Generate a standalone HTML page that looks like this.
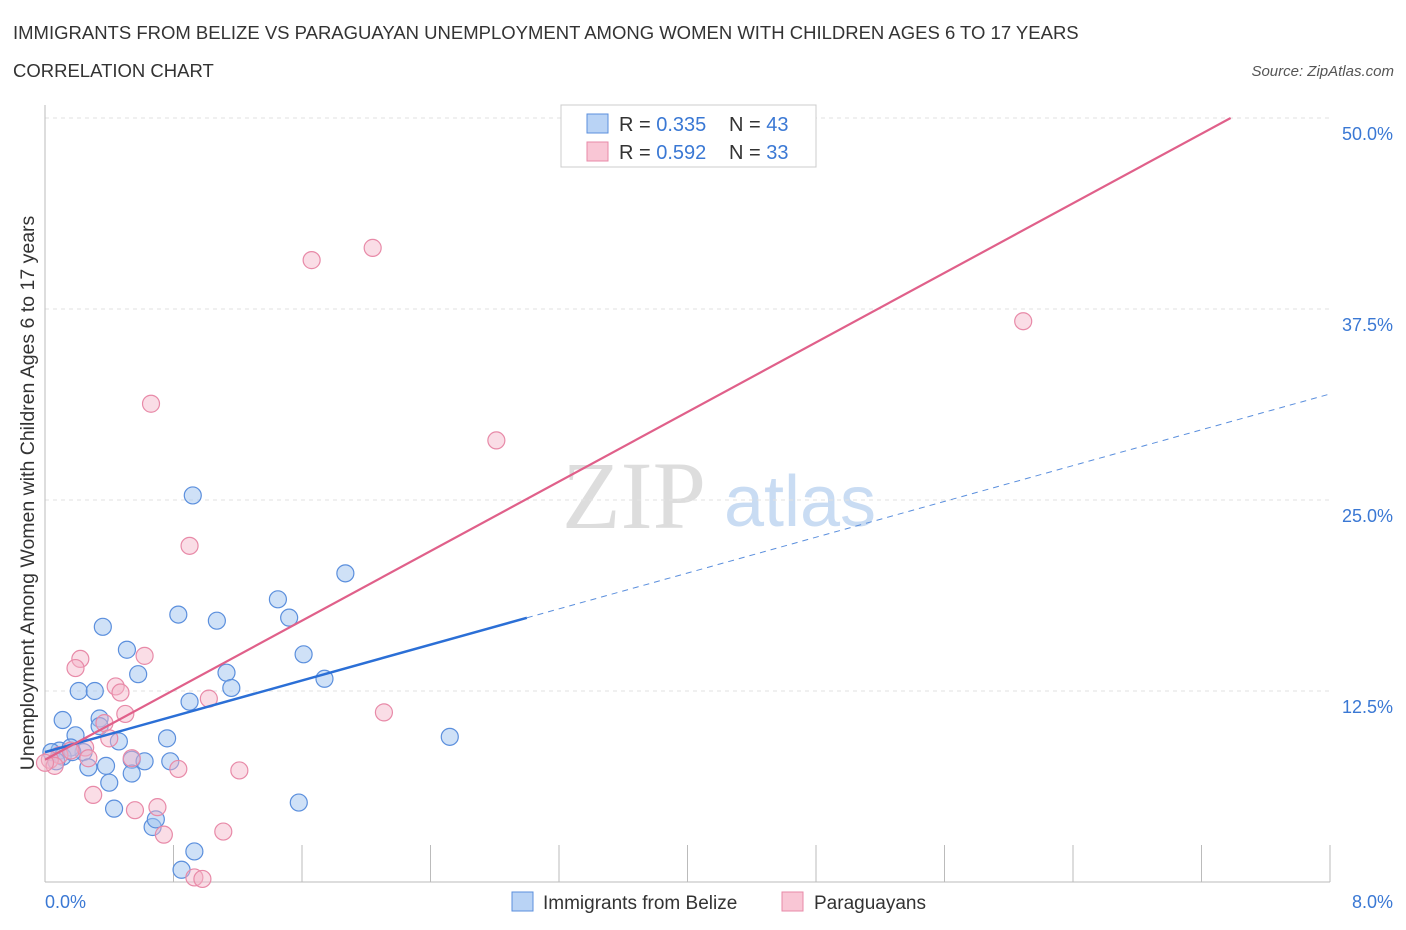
<!DOCTYPE html>
<html><head><meta charset="utf-8"><style>
body{margin:0;background:#fff;font-family:"Liberation Sans",sans-serif;}
svg{display:block}
</style></head><body>
<svg id="chart" width="1406" height="930">
<text x="13" y="39" font-size="18.5" fill="#333">IMMIGRANTS FROM BELIZE VS PARAGUAYAN UNEMPLOYMENT AMONG WOMEN WITH CHILDREN AGES 6 TO 17 YEARS</text>
<text x="13" y="77" font-size="18.5" fill="#333">CORRELATION CHART</text>
<text x="1394" y="76" font-size="15" fill="#555" font-style="italic" text-anchor="end">Source: ZipAtlas.com</text>
<text x="634" y="528" font-size="96" fill="#ddd" font-family="Liberation Serif,serif" text-anchor="middle">ZIP</text>
<text x="800" y="526" font-size="72" fill="#c9dcf3" text-anchor="middle">atlas</text>
<text transform="translate(34,493) rotate(-90)" font-size="19.5" fill="#333" text-anchor="middle">Unemployment Among Women with Children Ages 6 to 17 years</text>
<g id="grid"></g><g id="marks"></g><g id="lines"></g>
<g>
<rect x="561" y="105" width="255" height="62" fill="#fff" stroke="#ccc"/>
<rect x="587" y="114" width="21" height="19" fill="#b9d3f5" stroke="#5b8fdd"/>
<rect x="587" y="142" width="21" height="19" fill="#f9c6d5" stroke="#e88aa8"/>
<text x="619" y="131" font-size="20" fill="#333">R = <tspan fill="#3a78d4">0.335</tspan><tspan x="729">N = </tspan><tspan fill="#3a78d4">43</tspan></text>
<text x="619" y="159" font-size="20" fill="#333">R = <tspan fill="#3a78d4">0.592</tspan><tspan x="729">N = </tspan><tspan fill="#3a78d4">33</tspan></text>
</g>
<g>
<rect x="512" y="892" width="21" height="19" fill="#b9d3f5" stroke="#5b8fdd"/>
<text x="543" y="909" font-size="19" fill="#333">Immigrants from Belize</text>
<rect x="782" y="892" width="21" height="19" fill="#f9c6d5" stroke="#e88aa8"/>
<text x="814" y="909" font-size="19" fill="#333">Paraguayans</text>
</g>
<text x="45" y="908" font-size="18" fill="#3a78d4">0.0%</text>
<text x="1393" y="908" font-size="18" fill="#3a78d4" text-anchor="end">8.0%</text>
</svg>
<script>
const yTicks=[12.5,25,37.5,50];
const yTickLabels=["12.5%","25.0%","37.5%","50.0%"];
const xTicks=[0,0.8,1.6,2.4,3.2,4.0,4.8,5.6,6.4,7.2,8.0];
const belizeX=[0.11,0.36,0.21,0.31,0.51,0.58,0.83,0.92,1.07,1.45,1.52,1.87,1.61,1.74,1.13,1.16,0.90,0.76,0.34,0.34,0.19,0.46,0.24,0.09,0.04,0.16,0.27,0.38,0.54,0.62,0.78,0.54,0.40,0.43,0.67,0.69,0.93,0.85,1.58,2.52,0.11,0.07,0.17];
const belizeY=[10.6,16.7,12.5,12.5,15.2,13.6,17.5,25.3,17.1,18.5,17.3,20.2,14.9,13.3,13.7,12.7,11.8,9.4,10.7,10.2,9.6,9.2,8.5,8.6,8.5,8.8,7.5,7.6,8.0,7.9,7.9,7.1,6.5,4.8,3.6,4.1,2.0,0.8,5.2,9.5,8.2,7.9,8.5];
const parX=[1.66,2.04,6.09,0.66,2.81,0.90,0.22,0.19,0.62,0.44,0.47,1.02,0.50,0.37,2.11,0.40,0.25,0.09,0.03,0.06,0.27,0.54,0.83,1.21,0.30,0.70,0.56,0.74,1.11,0.93,0.98,0.0,0.16];
const parY=[40.7,41.5,36.7,31.3,28.9,22.0,14.6,14.0,14.8,12.8,12.4,12.0,11.0,10.4,11.1,9.4,8.8,8.3,8.0,7.6,8.1,8.1,7.4,7.3,5.7,4.9,4.7,3.1,3.3,0.3,0.2,7.8,8.6];
const belizeFit=[8.5,2.93];   // intercept, slope
const parFit=[8.0,5.69];      // intercept, slope
function X(v){return 45+v/8*1285;}
function Y(v){return 882-v/50*764;}
const NS="http://www.w3.org/2000/svg";
function mk(t,a,p){const e=document.createElementNS(NS,t);for(const k in a)e.setAttribute(k,a[k]);p.appendChild(e);return e;}
const grid=document.getElementById('grid'),marks=document.getElementById('marks'),lines=document.getElementById('lines');
yTicks.forEach((t,i)=>{
const g=mk('line',{x1:45,x2:1330,y1:Y(t),y2:Y(t),stroke:'#e2e2e2','stroke-dasharray':'4,4'},grid);


const l=mk('text',{x:1393,y:Y(t)+22,'font-size':18,fill:'#3a78d4','text-anchor':'end'},grid);l.textContent=yTickLabels[i];


});
const ax=mk('line',{x1:45,x2:45,y1:105,y2:882,stroke:'#bbb'},grid);


const xa=mk('line',{x1:45,x2:1330,y1:882,y2:882,stroke:'#bbb'},grid);


xTicks.forEach(t=>{const e=mk('line',{x1:X(t),x2:X(t),y1:845,y2:882,stroke:'#bbb'},grid);

});
belizeX.forEach((v,i)=>{const c=mk('circle',{cx:X(v),cy:Y(belizeY[i]),r:8.5,fill:'rgba(160,195,240,0.5)',stroke:'#5b8fdd','stroke-width':1.2},marks);

});
parX.forEach((v,i)=>{const c=mk('circle',{cx:X(v),cy:Y(parY[i]),r:8.5,fill:'rgba(245,180,200,0.45)',stroke:'#e88aa8','stroke-width':1.2},marks);

});
function by(x){return belizeFit[0]+belizeFit[1]*x;}
function py(x){return parFit[0]+parFit[1]*x;}
const b1=mk('line',{x1:X(0),y1:Y(by(0)),x2:X(3.0),y2:Y(by(3.0)),stroke:'#2b6fd6','stroke-width':2.5},lines);


const b2=mk('line',{x1:X(3.0),y1:Y(by(3.0)),x2:X(8.0),y2:Y(by(8.0)),stroke:'#5b8fdd','stroke-width':1,'stroke-dasharray':'6,5'},lines);


const xEnd=(50-parFit[0])/parFit[1];
const p1=mk('line',{x1:X(0),y1:Y(py(0)),x2:X(xEnd),y2:Y(50),stroke:'#e0608a','stroke-width':2.2},lines);


</script>
</body></html>
